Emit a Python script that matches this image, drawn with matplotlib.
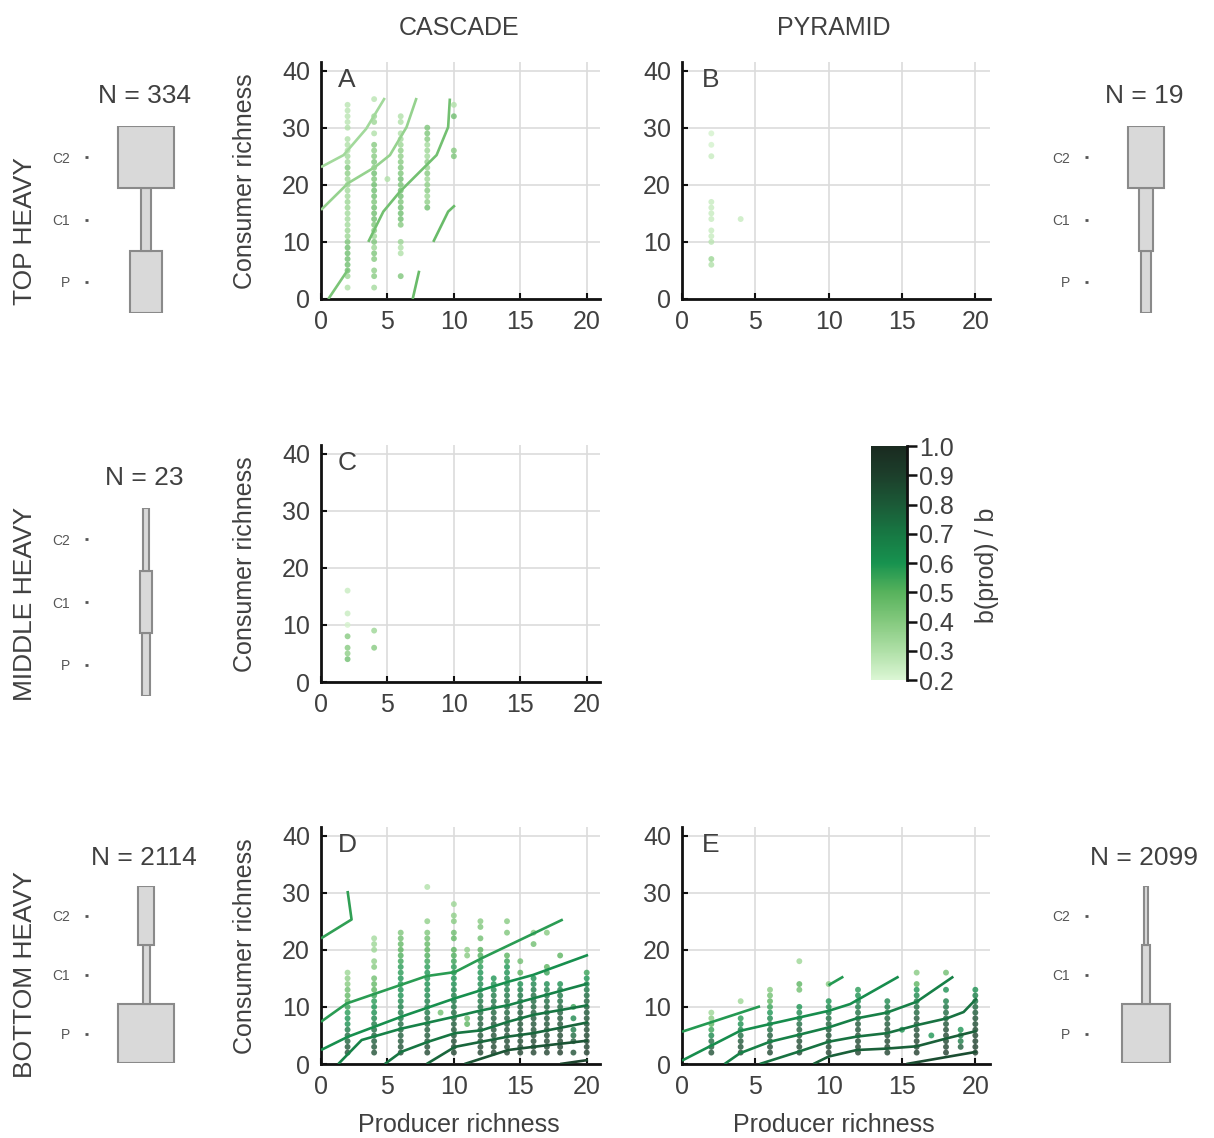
import matplotlib
matplotlib.use("Agg")
import matplotlib.pyplot as plt
from matplotlib.colors import LinearSegmentedColormap, Normalize
from matplotlib.cm import ScalarMappable
import numpy as np

plt.rcParams['font.family'] = ['Liberation Sans', 'DejaVu Sans']
TXT = '#404040'

# ---------------- data ----------------
col_titles = ["CASCADE", "PYRAMID"]
row_titles = ["TOP HEAVY", "MIDDLE HEAVY", "BOTTOM HEAVY"]
trophic_labels = ["P", "C1", "C2"]

# pyramid icons: relative biomass widths (P, C1, C2)
icon_casc_top = [0.57, 0.18, 1.0]
icon_pyr_top = [0.18, 0.25, 0.63]
icon_casc_mid = [0.14, 0.23, 0.11]
icon_casc_bot = [1.0, 0.125, 0.29]
icon_pyr_bot = [0.84, 0.16, 0.07]
n_counts = {"casc_top": 334, "pyr_top": 19, "casc_mid": 23, "casc_bot": 2114, "pyr_bot": 2099}

cbar_ticks = [0.2, 0.3, 0.4, 0.5, 0.6, 0.7, 0.8, 0.9, 1.0]

# Panel A scatter (producer richness column, consumer richness list, b(prod)/b list)
A_x = [2, 4, 5, 6, 8, 10]
A_y = [
    [2, 4, 5, 6, 7, 8, 9, 10, 11, 12, 13, 14, 15, 16, 17, 18, 19, 20, 21, 22, 23, 24, 25, 26, 27, 28, 30, 31, 32, 33, 34],
    [2, 4, 5, 7, 8, 9, 10, 11, 12, 13, 14, 15, 16, 17, 18, 19, 20, 21, 22, 23, 24, 25, 26, 27, 29, 31, 32, 35],
    [21],
    [4, 8, 9, 10, 13, 14, 15, 16, 17, 18, 19, 20, 21, 22, 23, 24, 25, 26, 27, 28, 29, 31, 32],
    [16, 17, 18, 19, 20, 21, 22, 23, 24, 25, 26, 27, 28, 29, 30],
    [25, 26, 32, 34],
]
A_v = [
    [0.30, 0.35, 0.45, 0.45, 0.45, 0.45, 0.45, 0.42, 0.35, 0.35, 0.33, 0.33, 0.33, 0.35, 0.35, 0.33, 0.33, 0.35, 0.35, 0.38, 0.42, 0.33, 0.33, 0.30, 0.30, 0.30, 0.30, 0.28, 0.28, 0.28, 0.28],
    [0.33, 0.40, 0.38, 0.40, 0.42, 0.35, 0.42, 0.35, 0.40, 0.42, 0.45, 0.45, 0.45, 0.42, 0.45, 0.45, 0.45, 0.42, 0.45, 0.40, 0.42, 0.40, 0.38, 0.40, 0.30, 0.35, 0.35, 0.28],
    [0.30],
    [0.42, 0.30, 0.30, 0.35, 0.40, 0.45, 0.45, 0.45, 0.42, 0.45, 0.45, 0.42, 0.45, 0.42, 0.42, 0.40, 0.38, 0.38, 0.35, 0.33, 0.30, 0.30, 0.30],
    [0.45, 0.38, 0.35, 0.40, 0.38, 0.35, 0.40, 0.35, 0.38, 0.33, 0.35, 0.33, 0.40, 0.42, 0.42],
    [0.42, 0.40, 0.45, 0.30],
]
A_lvl = [0.33, 0.36, 0.44, 0.46, 0.42, 0.46]
A_lx = [[0, 1.7, 3.4, 4.8], [0, 2.05, 4.06, 5.19, 6.44, 7.19], [3.56, 4.69, 5.94, 8.7, 9.57, 9.7],
        [8.45, 9.57, 10.08], [0.55, 2.05], [6.9, 7.39]]
A_ly = [[23.1, 25.2, 29.8, 35.2], [15.6, 20.3, 23.1, 25.2, 30.1, 35.2], [10.0, 15.3, 18.8, 25.2, 30.1, 35.1],
        [10.0, 15.3, 16.4], [0.0, 5.2], [0.0, 4.95]]

# Panel B
B_x = [2, 4]
B_y = [[6, 7, 10, 11, 12, 14, 15, 16, 17, 25, 27, 29], [14]]
B_v = [[0.30, 0.35, 0.28, 0.25, 0.25, 0.25, 0.25, 0.25, 0.25, 0.25, 0.22, 0.22], [0.25]]

# Panel C
C_x = [2, 4]
C_y = [[4, 5, 6, 8, 10, 12, 16], [6, 9]]
C_v = [[0.45, 0.38, 0.40, 0.40, 0.22, 0.25, 0.25], [0.40, 0.35]]

# Panel D
D_x = [2, 4, 6, 8, 9, 10, 11, 12, 13, 14, 15, 16, 17, 18, 19, 20]
D_y = [
    [2, 3, 4, 5, 6, 7, 8, 9, 10, 11, 12, 13, 14, 15, 16],
    [2, 3, 4, 5, 6, 7, 8, 9, 10, 11, 12, 13, 14, 15, 17, 18, 20, 21, 22],
    [2, 3, 4, 5, 6, 7, 8, 9, 10, 11, 12, 13, 14, 15, 16, 17, 18, 19, 20, 21, 22, 23],
    [2, 3, 4, 5, 6, 7, 8, 9, 10, 11, 12, 13, 14, 15, 16, 17, 18, 19, 20, 21, 22, 23, 25, 31],
    [9],
    [2, 3, 4, 5, 6, 7, 8, 9, 10, 11, 12, 13, 14, 15, 16, 17, 18, 19, 20, 22, 23, 25, 26, 28],
    [7, 8, 19, 20],
    [2, 3, 4, 5, 6, 7, 8, 9, 10, 11, 12, 13, 14, 15, 16, 17, 18, 19, 20, 22, 24, 25],
    [2, 3, 4, 5, 6, 7, 8, 9, 10, 11, 12, 13, 14, 15],
    [2, 3, 4, 5, 6, 7, 8, 9, 10, 11, 12, 13, 14, 15, 16, 17, 18, 19, 23, 25],
    [2, 3, 4, 5, 6, 7, 8, 9, 10, 11, 12, 13, 14, 16, 18],
    [2, 3, 4, 5, 6, 7, 8, 9, 10, 11, 12, 13, 14, 15, 21, 23],
    [2, 3, 4, 5, 6, 7, 8, 9, 10, 11, 12, 13, 14, 16, 17, 23],
    [2, 3, 4, 5, 6, 7, 8, 9, 10, 11, 12, 13, 14, 19],
    [2, 4, 5, 6, 8, 10],
    [2, 3, 4, 5, 6, 7, 8, 9, 10, 11, 12, 13, 14, 15, 16],
]
D_v = [
    [0.85, 0.82, 0.78, 0.75, 0.70, 0.62, 0.60, 0.58, 0.55, 0.50, 0.48, 0.45, 0.40, 0.38, 0.35],
    [0.85, 0.82, 0.80, 0.78, 0.75, 0.70, 0.65, 0.62, 0.60, 0.58, 0.55, 0.50, 0.48, 0.45, 0.40, 0.38, 0.35, 0.35, 0.33],
    [0.88, 0.85, 0.82, 0.80, 0.78, 0.75, 0.72, 0.70, 0.68, 0.65, 0.62, 0.62, 0.60, 0.60, 0.58, 0.58, 0.55, 0.52, 0.50, 0.48, 0.45, 0.42],
    [0.88, 0.86, 0.84, 0.82, 0.80, 0.78, 0.75, 0.72, 0.70, 0.68, 0.65, 0.63, 0.62, 0.60, 0.60, 0.58, 0.55, 0.52, 0.50, 0.48, 0.45, 0.42, 0.38, 0.30],
    [0.45],
    [0.90, 0.88, 0.86, 0.84, 0.82, 0.80, 0.78, 0.75, 0.72, 0.70, 0.68, 0.65, 0.62, 0.60, 0.60, 0.58, 0.55, 0.52, 0.50, 0.48, 0.45, 0.40, 0.38, 0.35],
    [0.50, 0.45, 0.40, 0.38],
    [0.90, 0.88, 0.86, 0.84, 0.82, 0.80, 0.78, 0.76, 0.74, 0.72, 0.70, 0.67, 0.64, 0.62, 0.60, 0.58, 0.55, 0.52, 0.50, 0.45, 0.42, 0.40],
    [0.90, 0.88, 0.86, 0.85, 0.84, 0.82, 0.80, 0.78, 0.75, 0.72, 0.70, 0.66, 0.62, 0.60],
    [0.90, 0.88, 0.87, 0.86, 0.84, 0.82, 0.80, 0.78, 0.76, 0.74, 0.72, 0.70, 0.67, 0.64, 0.62, 0.60, 0.55, 0.50, 0.42, 0.40],
    [0.90, 0.88, 0.87, 0.86, 0.85, 0.84, 0.82, 0.80, 0.78, 0.75, 0.72, 0.68, 0.62, 0.50, 0.45],
    [0.90, 0.89, 0.88, 0.86, 0.85, 0.84, 0.82, 0.80, 0.78, 0.76, 0.74, 0.70, 0.66, 0.62, 0.45, 0.40],
    [0.90, 0.89, 0.88, 0.87, 0.86, 0.84, 0.82, 0.80, 0.78, 0.75, 0.72, 0.68, 0.64, 0.55, 0.50, 0.40],
    [0.92, 0.90, 0.89, 0.88, 0.86, 0.85, 0.83, 0.80, 0.78, 0.75, 0.72, 0.68, 0.62, 0.50],
    [0.85, 0.80, 0.75, 0.70, 0.65, 0.55],
    [0.92, 0.90, 0.89, 0.88, 0.87, 0.86, 0.84, 0.82, 0.80, 0.78, 0.75, 0.72, 0.68, 0.60, 0.55],
]
D_lvl = [0.56, 0.57, 0.61, 0.66, 0.71, 0.76, 0.82, 0.88]
D_lx = [[0, 2.3, 2.0],
        [0, 1.93, 7.95, 10.08, 12.08, 18.2],
        [0, 2.05, 6.06, 10.08, 14.09, 15.97, 20.1],
        [1.3, 3.06, 6.06, 10.08, 12.08, 14.09, 20.1],
        [4.8, 6.06, 8.07, 10.08, 12.08, 14.09, 15.97, 20.1],
        [7.95, 10.08, 12.08, 14.09, 15.97, 20.1],
        [10.8, 14.09, 15.97, 20.1],
        [18.0, 20.1]]
D_ly = [[22.0, 25.3, 30.3],
        [7.4, 10.6, 15.4, 16.1, 18.5, 25.3],
        [2.45, 4.8, 8.3, 11.5, 14.4, 15.6, 19.1],
        [0.0, 4.2, 6.2, 8.3, 9.4, 10.3, 14.1],
        [0.0, 2.15, 3.9, 5.4, 5.9, 7.4, 8.6, 10.3],
        [0.0, 3.0, 3.9, 4.8, 5.4, 7.3],
        [0.0, 2.45, 3.0, 4.1],
        [0.0, 0.7]]

# Panel E
E_x = [2, 4, 6, 8, 10, 12, 14, 15, 16, 17, 18, 19, 20]
E_y = [
    [2, 3, 4, 5, 6, 7, 8, 9],
    [2, 3, 4, 5, 6, 7, 8, 11],
    [2, 3, 4, 5, 6, 7, 8, 9, 10, 11, 12, 13],
    [2, 3, 4, 5, 6, 7, 8, 9, 10, 13, 14, 18],
    [2, 3, 4, 5, 6, 7, 8, 9, 10, 11, 14],
    [2, 3, 4, 5, 6, 7, 8, 9, 10, 11, 12, 13],
    [2, 3, 4, 5, 6, 7, 8, 9, 10, 11],
    [6],
    [2, 3, 4, 5, 6, 7, 8, 9, 10, 11, 12, 13, 14, 16],
    [5],
    [2, 3, 4, 5, 6, 7, 8, 9, 10, 11, 13, 16],
    [3, 4, 5, 6],
    [2, 3, 4, 5, 6, 7, 8, 9, 10, 11, 12, 13],
]
E_v = [
    [0.85, 0.80, 0.75, 0.65, 0.55, 0.50, 0.40, 0.35],
    [0.88, 0.85, 0.82, 0.75, 0.68, 0.62, 0.58, 0.35],
    [0.88, 0.86, 0.84, 0.80, 0.75, 0.70, 0.65, 0.60, 0.55, 0.50, 0.45, 0.40],
    [0.90, 0.88, 0.86, 0.84, 0.80, 0.75, 0.70, 0.65, 0.60, 0.45, 0.50, 0.35],
    [0.90, 0.88, 0.86, 0.84, 0.82, 0.78, 0.74, 0.70, 0.65, 0.60, 0.40],
    [0.90, 0.89, 0.88, 0.86, 0.84, 0.82, 0.78, 0.74, 0.70, 0.66, 0.62, 0.58],
    [0.90, 0.89, 0.88, 0.87, 0.85, 0.82, 0.78, 0.74, 0.70, 0.65],
    [0.60],
    [0.92, 0.90, 0.89, 0.88, 0.86, 0.84, 0.82, 0.78, 0.74, 0.70, 0.65, 0.60, 0.50, 0.40],
    [0.60],
    [0.92, 0.90, 0.89, 0.88, 0.86, 0.84, 0.80, 0.76, 0.72, 0.68, 0.62, 0.45],
    [0.80, 0.70, 0.70, 0.60],
    [0.92, 0.91, 0.90, 0.89, 0.88, 0.86, 0.84, 0.80, 0.76, 0.72, 0.68, 0.62],
]
E_lvl = [0.58, 0.58, 0.62, 0.67, 0.72, 0.78, 0.85]
E_lx = [[0, 5.32], [9.99, 11.0],
        [0, 3.96, 6.0, 9.99, 11.47, 14.77],
        [2.9, 3.96, 6.0, 7.94, 9.99, 11.92, 13.97, 16.0, 18.5],
        [5.3, 7.94, 9.99, 11.92, 13.97, 16.0, 18.07, 19.2, 20.1],
        [8.96, 9.99, 11.92, 13.97, 16.0, 18.07, 20.1],
        [15.3, 20.1]]
E_ly = [[5.65, 10.1], [13.8, 15.3],
        [0.6, 5.8, 7.0, 9.3, 10.5, 15.3],
        [0.0, 1.9, 3.9, 5.1, 6.4, 8.0, 9.0, 10.9, 15.3],
        [0.0, 2.15, 3.9, 4.8, 5.4, 6.8, 8.0, 9.1, 11.5],
        [0.0, 1.3, 2.45, 2.7, 3.1, 4.5, 5.8],
        [0.0, 2.15]]

# ---------------- figure ----------------
W, H = 1214, 1138
fig = plt.figure(figsize=(W / 100, H / 100), dpi=100)


def rect(l, t, r, b):
    return [l / W, 1 - b / H, (r - l) / W, (b - t) / H]


def ftext(x, y, s, **kw):
    kw.setdefault('color', TXT)
    kw.setdefault('ha', 'center')
    kw.setdefault('va', 'center')
    fig.text(x / W, 1 - y / H, s, **kw)


cmap = LinearSegmentedColormap.from_list(
    'bprod', ['#dbf6d4', '#aedfa6', '#84c97e', '#57b25c', '#17924f', '#177843', '#1b5a37', '#1c3f2b', '#1a2a20'])
norm = Normalize(vmin=0.2, vmax=1.0)


def panel(r, letter, xs, ys, vs, lvls, lxs, lys):
    ax = fig.add_axes(rect(*r))
    ax.set_xlim(0, 21)
    ax.set_ylim(0, 41.5)
    ax.set_xticks([0, 5, 10, 15, 20])
    ax.set_yticks([0, 10, 20, 30, 40])
    ax.grid(True, color='#dcdcdc', lw=1.2)
    ax.set_axisbelow(True)
    for s in ['top', 'right']:
        ax.spines[s].set_visible(False)
    for s in ['left', 'bottom']:
        ax.spines[s].set_linewidth(2.0)
        ax.spines[s].set_color('#111111')
    ax.tick_params(direction='in', length=4, width=1.5, color='#111111',
                   labelsize=18, labelcolor=TXT, pad=8)
    px, py, pv = [], [], []
    for x, yl, vl in zip(xs, ys, vs):
        for y, v in zip(yl, vl):
            px.append(x); py.append(y); pv.append(v)
    ax.scatter(px, py, c=pv, cmap=cmap, norm=norm, s=18, alpha=0.78,
               edgecolors='none', zorder=3)
    for lv, lx, ly in zip(lvls, lxs, lys):
        ax.plot(lx, ly, color=cmap(norm(lv)), lw=1.9, zorder=4, solid_capstyle='butt')
    ax.text(0.093, 0.924, letter, transform=ax.transAxes, fontsize=19,
            color=TXT, ha='center', va='center')
    return ax


LX_C, RX_C = 321, 600
LX_P, RX_P = 682, 990
panel((LX_C, 62, RX_C, 299), 'A', A_x, A_y, A_v, A_lvl, A_lx, A_ly)
panel((LX_P, 62, RX_P, 299), 'B', B_x, B_y, B_v, [], [], [])
panel((LX_C, 445, RX_C, 682), 'C', C_x, C_y, C_v, [], [], [])
panel((LX_C, 827, RX_C, 1064), 'D', D_x, D_y, D_v, D_lvl, D_lx, D_ly)
panel((LX_P, 827, RX_P, 1064), 'E', E_x, E_y, E_v, E_lvl, E_lx, E_ly)

# axis labels and titles
for yc in [181, 564, 946]:
    ftext(245, yc, "Consumer richness", fontsize=18, rotation=90)
ftext(459, 1125, "Producer richness", fontsize=18)
ftext(834, 1125, "Producer richness", fontsize=18)
ftext(459, 28, col_titles[0], fontsize=18)
ftext(834, 28, col_titles[1], fontsize=18)
for yc, t in zip([231, 604, 975], row_titles):
    ftext(25, yc, t, fontsize=19, rotation=90)

# colorbar
cax = fig.add_axes(rect(871, 446, 907, 680))
cb = fig.colorbar(ScalarMappable(norm=norm, cmap=cmap), cax=cax, ticks=cbar_ticks)
cb.outline.set_visible(False)
cax.spines['right'].set_visible(True)
cax.spines['right'].set_linewidth(2)
cax.spines['right'].set_color('#111111')
cax.tick_params(length=7, width=1.8, color='#111111', labelsize=18, labelcolor=TXT, pad=2)
cb.set_ticklabels([f"{t:.1f}" for t in cbar_ticks])
ftext(987, 565, "b(prod) / b", fontsize=18, rotation=90)


# pyramid icons
def icon(cx, top, bot, widths, n, ny):
    l = cx - 58
    ax = fig.add_axes(rect(l, top, l + 116, bot))
    w = np.array(widths)
    half = 58 / 56
    ax.barh([0, 1, 2], w, left=-w / 2, height=1.0, color='#d9d9d9',
            edgecolor='#8a8a8a', lw=1.5)
    ax.set_xlim(-half, half)
    ax.set_ylim(-0.5, 2.5)
    ax.set_xticks([])
    ax.set_yticks([0, 1, 2], trophic_labels)
    ax.tick_params(axis='y', length=2, width=2, color='#555555', labelsize=10,
                   labelcolor='#555555', pad=11)
    for s in ax.spines.values():
        s.set_visible(False)
    ax.patch.set_alpha(0)
    ftext(cx - 2, ny, f"N = {n}", fontsize=19)


icon(146, 126, 313, icon_casc_top, n_counts["casc_top"], 96)
icon(1146, 126, 313, icon_pyr_top, n_counts["pyr_top"], 96)
icon(146, 508, 696, icon_casc_mid, n_counts["casc_mid"], 478)
icon(146, 886, 1063, icon_casc_bot, n_counts["casc_bot"], 858)
icon(1146, 886, 1063, icon_pyr_bot, n_counts["pyr_bot"], 858)

fig.savefig("out.png", dpi=100)
